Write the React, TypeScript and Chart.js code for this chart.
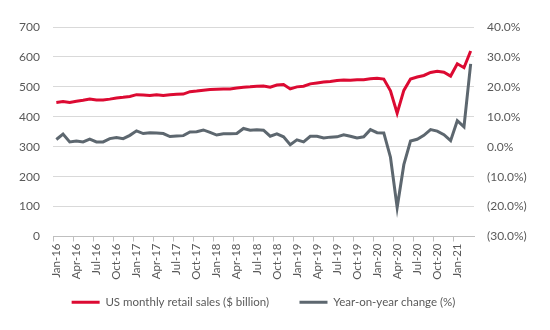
import React, { useEffect, useRef } from 'react';
import { Chart, registerables } from 'chart.js';

Chart.register(...registerables);

const categories = [
  'Jan-16', 'Feb-16', 'Mar-16', 'Apr-16', 'May-16', 'Jun-16', 'Jul-16', 'Aug-16', 'Sep-16', 'Oct-16', 'Nov-16', 'Dec-16',
  'Jan-17', 'Feb-17', 'Mar-17', 'Apr-17', 'May-17', 'Jun-17', 'Jul-17', 'Aug-17', 'Sep-17', 'Oct-17', 'Nov-17', 'Dec-17',
  'Jan-18', 'Feb-18', 'Mar-18', 'Apr-18', 'May-18', 'Jun-18', 'Jul-18', 'Aug-18', 'Sep-18', 'Oct-18', 'Nov-18', 'Dec-18',
  'Jan-19', 'Feb-19', 'Mar-19', 'Apr-19', 'May-19', 'Jun-19', 'Jul-19', 'Aug-19', 'Sep-19', 'Oct-19', 'Nov-19', 'Dec-19',
  'Jan-20', 'Feb-20', 'Mar-20', 'Apr-20', 'May-20', 'Jun-20', 'Jul-20', 'Aug-20', 'Sep-20', 'Oct-20', 'Nov-20', 'Dec-20',
  'Jan-21', 'Feb-21', 'Mar-21',
];

// US monthly retail sales ($ billion)
const retailSales = [
  448, 451, 448, 452, 455, 459, 456, 456, 459, 463, 465, 468,
  474, 473, 471, 474, 471, 474, 475, 476, 484, 486, 489, 491,
  492, 493, 493, 496, 499, 500, 502, 503, 499, 506, 508, 493,
  500, 502, 510, 513, 516, 518, 521, 523, 522, 524, 524, 527,
  529, 526, 487, 412, 488, 526, 533, 538, 548, 552, 549, 536,
  577, 564, 620,
];

// Year-on-year change (%)
const yoyChange = [
  2.4, 4.2, 1.6, 1.9, 1.6, 2.5, 1.6, 1.6, 2.7, 3.1, 2.7, 3.8,
  5.3, 4.4, 4.7, 4.6, 4.4, 3.4, 3.6, 3.7, 4.9, 5.0, 5.6, 4.8,
  3.9, 4.3, 4.3, 4.4, 6.1, 5.5, 5.7, 5.5, 3.5, 4.3, 3.3, 0.7,
  2.3, 1.6, 3.5, 3.5, 2.9, 3.2, 3.3, 4.0, 3.5, 2.9, 3.3, 5.7,
  4.7, 4.6, -3.5, -20.3, -6.0, 1.9, 2.5, 3.8, 5.7, 5.2, 4.0, 2.0,
  8.7, 6.6, 27.7,
];

const seriesNames = ['US monthly retail sales ($ billion)', 'Year-on-year change (%)'];
const leftAxis = { min: 0, max: 700, step: 100 };
const rightAxis = { min: -30, max: 40, step: 10 };

const RED = '#DC0A32';
const GREY = '#5D676F';
const FONT = 'Lato, "Liberation Sans", sans-serif';
const TEXT = '#595959';

const fmtPct = (v: number) => {
  const s = Math.abs(v).toFixed(1) + '%';
  return v < 0 ? '(' + s + ')' : s;
};

export default function App() {
  const ref = useRef<HTMLCanvasElement | null>(null);

  useEffect(() => {
    if (!ref.current) return;
    const chart = new Chart(ref.current, {
      type: 'line',
      data: {
        labels: categories,
        datasets: [
          {
            label: seriesNames[0],
            data: retailSales,
            borderColor: RED,
            backgroundColor: RED,
            borderWidth: 3,
            pointRadius: 0,
            pointStyle: 'line',
            tension: 0,
            yAxisID: 'y',
          },
          {
            label: seriesNames[1],
            data: yoyChange,
            borderColor: GREY,
            backgroundColor: GREY,
            borderWidth: 3,
            pointRadius: 0,
            pointStyle: 'line',
            tension: 0,
            yAxisID: 'y1',
          },
        ],
      },
      options: {
        animation: false,
        responsive: false,
        maintainAspectRatio: false,
        layout: { padding: { top: 27, left: 0, right: 0, bottom: 12 } },
        plugins: {
          tooltip: { enabled: false },
          legend: {
            position: 'bottom',
            fullSize: false,
            labels: {
              usePointStyle: true,
              pointStyleWidth: 28,
              font: { family: FONT, size: 11.5 },
              color: TEXT,
              padding: 4,
              generateLabels: (c: any) => {
                const items = Chart.defaults.plugins.legend.labels.generateLabels(c);
                items[0].text = items[0].text + '         ';
                return items;
              },
            },
          },
        },
        scales: {
          x: {
            offset: true,
            grid: {
              offset: true,
              drawOnChartArea: false,
              drawTicks: true,
              tickLength: 5,
              color: (ctx: any) => (ctx.index % 3 === 0 ? '#BFBFBF' : 'rgba(0,0,0,0)'),
            },
            border: { display: true, color: '#BFBFBF' },
            ticks: {
              autoSkip: false,
              minRotation: 90,
              maxRotation: 90,
              padding: 2,
              color: TEXT,
              font: { family: FONT, size: 11.5 },
              callback: (_v: any, i: number) => (i % 3 === 0 ? categories[i] : ''),
            },
            afterFit: (s: any) => { s.height = 56; },
          },
          y: {
            position: 'left',
            min: leftAxis.min,
            max: leftAxis.max,
            grid: { color: '#D9D9D9', drawTicks: false },
            border: { display: false },
            ticks: {
              stepSize: leftAxis.step,
              padding: 13,
              color: TEXT,
              font: { family: FONT, size: 12 },
            },
            afterFit: (s: any) => { s.width = 53; },
          },
          y1: {
            position: 'right',
            min: rightAxis.min,
            max: rightAxis.max,
            grid: { drawOnChartArea: false, drawTicks: false },
            border: { display: false },
            ticks: {
              stepSize: rightAxis.step,
              padding: 13,
              color: TEXT,
              font: { family: FONT, size: 12 },
              callback: (v: any) => fmtPct(Number(v)),
            },
            afterFit: (s: any) => { s.width = 76; },
          },
        },
      },
    });
    return () => chart.destroy();
  }, []);

  return (
    <div style={{ position: 'absolute', left: 0, top: 0, width: 550, height: 330, background: '#fff' }}>
      <canvas ref={ref} width={550} height={330} style={{ width: 550, height: 330 }} />
    </div>
  );
}
